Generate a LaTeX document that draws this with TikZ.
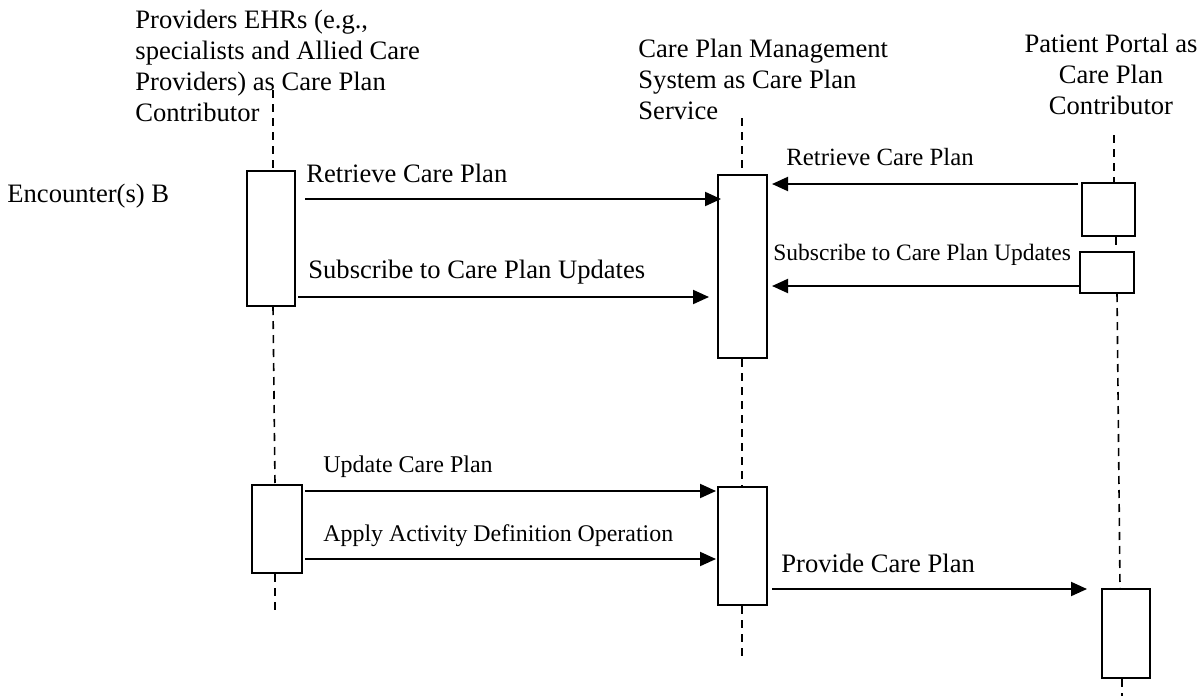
\documentclass[tikz,border=0pt]{standalone}
\usepackage{fontspec}
\setmainfont{Liberation Serif}
\usetikzlibrary{arrows.meta}
\begin{document}
\begin{tikzpicture}[x=0.5pt,y=-0.5pt,
  life/.style={line width=0.8pt,dash pattern=on 4pt off 3pt},
  actbox/.style={draw,line width=1pt,fill=white,inner sep=0pt},
  msg/.style={line width=1pt,-{Triangle[length=8pt,width=7pt]}},
  big/.style={font=\fontsize{13.3pt}{15.4pt}\selectfont,inner sep=0pt},
  small/.style={font=\fontsize{11.95pt}{14pt}\selectfont,inner sep=0pt},
  mid/.style={font=\fontsize{12.4pt}{14pt}\selectfont,inner sep=0pt},
  head/.style={font=\fontsize{13.3pt}{15.4pt}\selectfont,inner sep=0pt,align=left}]
\useasboundingbox (0,0) rectangle (1202,696);

% headers
\node[head,anchor=north west] (h1) at (135,10) {Providers EHRs (e.g.,\\specialists and Allied Care\\Providers) as Care Plan\\Contributor};
\node[head,anchor=north west] (h2) at (638,39) {Care Plan Management\\System as Care Plan\\Service};
\node[head,align=center,anchor=north] (h3) at (1111,34) {Patient Portal as\\Care Plan\\Contributor};
\node[big,anchor=base west] (enc) at (7,202) {Encounter(s) B};

% activation boxes
\node[actbox,minimum width=24pt,minimum height=67.5pt] (L1) at (271,238.5) {};
\node[actbox,minimum width=25pt,minimum height=44pt] (L2) at (277,529) {};
\node[actbox,minimum width=24.5pt,minimum height=91.5pt] (C1) at (742.5,266.5) {};
\node[actbox,minimum width=24.5pt,minimum height=59pt] (C2) at (742.5,546) {};
\node[actbox,minimum width=26.5pt,minimum height=26.5pt] (P1) at (1108.5,209.5) {};
\node[actbox,minimum width=27pt,minimum height=20.5pt] (P2) at (1107,272.5) {};
\node[actbox,minimum width=24pt,minimum height=44.5pt] (P3) at (1126,633.5) {};

% lifelines
\coordinate (l1top) at (273,90);
\coordinate (l1bot) at (275,615);
\coordinate (l2top) at (742,118);
\coordinate (l2bot) at (742,661);
\coordinate (l3top) at (1114,135);
\coordinate (l3bot) at (1122,696);
\draw[life] (l1top) -- (l1top |- L1.north);
\draw[life] (273,0 |- L1.south) -- (275,0 |- L2.north);
\draw[life] (l1bot |- L2.south) -- (l1bot);
\draw[life] (l2top) -- (l2top |- C1.north);
\draw[life] (l2top |- C1.south) -- (l2top |- C2.north);
\draw[life] (l2bot |- C2.south) -- (l2bot);
\draw[life] (l3top) -- (l3top |- P1.north);
\draw[life] (1116,0 |- P1.south) -- (1116,0 |- P2.north);
\draw[life] (1117,0 |- P2.south) -- (1120,0 |- P3.north);
\draw[life] (l3bot |- P3.south) -- (l3bot);

% messages
\draw[msg] ([xshift=4.5pt]L1.east |- 0,199) -- ([xshift=2pt]C1.west |- 0,199);
\node[big,anchor=base west] (m1) at (306,182) {Retrieve Care Plan};
\draw[msg] ([xshift=1pt]L1.east |- 0,297) -- ([xshift=-4pt]C1.west |- 0,297);
\node[big,anchor=base west] (m2) at (308,278) {Subscribe to Care Plan Updates};
\draw[msg] ([xshift=-1.5pt]P1.west |- 0,184) -- ([xshift=2pt]C1.east |- 0,184);
\node[mid,anchor=base west] (m3) at (786,165) {Retrieve Care Plan};
\draw[msg] (P2.west |- 0,286) -- ([xshift=2pt]C1.east |- 0,286);
\node[font=\fontsize{11.75pt}{14pt}\selectfont,inner sep=0pt,anchor=base west] (m4) at (773,260) {Subscribe to Care Plan Updates};
\draw[msg] ([xshift=1pt]L2.east |- 0,491) -- ([xshift=-0.5pt]C2.west |- 0,491);
\node[font=\fontsize{12pt}{14pt}\selectfont,inner sep=0pt,anchor=base west] (m5) at (323,472) {Update Care Plan};
\draw[msg] ([xshift=1pt]L2.east |- 0,559) -- ([xshift=-0.5pt]C2.west |- 0,559);
\node[small,anchor=base west] (m6) at (323,541) {Apply Activity Definition Operation};
\draw[msg] ([xshift=2pt]C2.east |- 0,589) -- ([xshift=-7pt]P3.west |- 0,589);
\node[big,anchor=base west] (m7) at (781,572) {Provide Care Plan};
\end{tikzpicture}
\end{document}
